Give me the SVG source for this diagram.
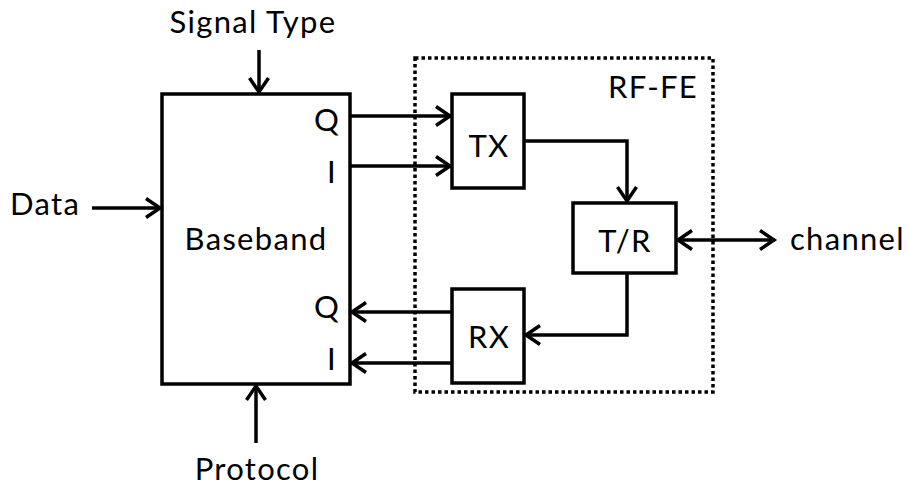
<svg xmlns="http://www.w3.org/2000/svg" width="908" height="487" viewBox="0 0 908 487">
<style>
.box{fill:#fff;stroke:#000;stroke-width:3.5;stroke-linejoin:miter}
.ln{fill:none;stroke:#000;stroke-width:3.5}
.dot{fill:none;stroke:#000;stroke-width:3.5;stroke-dasharray:3.5 3}
text{font-family:Lato,"Open Sans",sans-serif;font-size:31px;letter-spacing:1.3px;fill:#000}
.m{text-anchor:middle}
.e{text-anchor:end}
</style>
<defs>
<marker id="ar" viewBox="-18 -12 22 24" markerWidth="22" markerHeight="24" refX="0" refY="0" orient="auto-start-reverse" markerUnits="userSpaceOnUse">
<path d="M-15,-9.5 L-1,0 L-15,9.5" fill="none" stroke="#000" stroke-width="3.5"/>
</marker>
</defs>
<g id="rf-fe">
<rect class="dot" x="415" y="58" width="298" height="334"/>
<text class="e" x="698" y="98">RF-FE</text>
</g>
<g id="baseband">
<rect class="box" x="162" y="94" width="188" height="290"/>
<text class="m" x="256" y="250">Baseband</text>
<text class="e" x="340" y="131">Q</text>
<text class="e" x="337" y="183">I</text>
<text class="e" x="340" y="318">Q</text>
<text class="e" x="337" y="370">I</text>
</g>
<g id="tx">
<rect class="box" x="452" y="94" width="72" height="94"/>
<text class="m" x="489" y="157">TX</text>
</g>
<g id="tr">
<rect class="box" x="573" y="203" width="103" height="70"/>
<text class="m" x="625" y="252">T/R</text>
</g>
<g id="rx">
<rect class="box" x="452" y="289" width="72" height="94"/>
<text class="m" x="489" y="348">RX</text>
</g>
<g id="labels">
<text class="m" x="253" y="33">Signal Type</text>
<text x="10" y="215">Data</text>
<text class="m" x="257" y="480">Protocol</text>
<text x="790" y="250">channel</text>
</g>
<g id="connectors">
<line class="ln" x1="259" y1="50" x2="259" y2="93" marker-end="url(#ar)"/>
<line class="ln" x1="92" y1="208" x2="161" y2="208" marker-end="url(#ar)"/>
<line class="ln" x1="256" y1="443" x2="256" y2="385" marker-end="url(#ar)"/>
<line class="ln" x1="351" y1="116" x2="451" y2="116" marker-end="url(#ar)"/>
<line class="ln" x1="351" y1="166" x2="451" y2="166" marker-end="url(#ar)"/>
<line class="ln" x1="452" y1="312" x2="351" y2="312" marker-end="url(#ar)"/>
<line class="ln" x1="452" y1="363" x2="351" y2="363" marker-end="url(#ar)"/>
<polyline class="ln" points="524,141 627,141 627,202" marker-end="url(#ar)"/>
<polyline class="ln" points="627,273 627,335 525,335" marker-end="url(#ar)"/>
<line class="ln" x1="677" y1="240" x2="775" y2="240" marker-start="url(#ar)" marker-end="url(#ar)"/>
</g>
</svg>
